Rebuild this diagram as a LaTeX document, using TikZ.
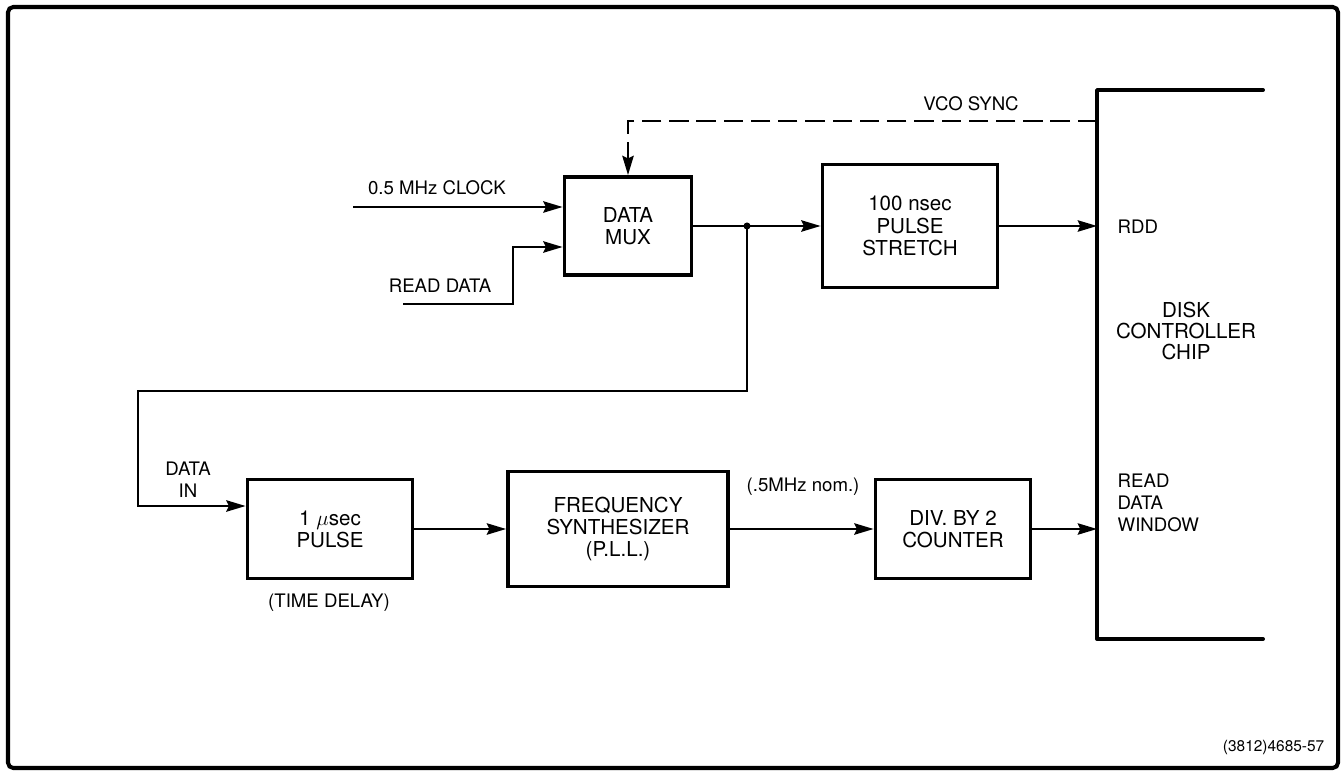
\documentclass[tikz,border=0pt]{standalone}
\usepackage{fontspec}
\setmainfont{TeX Gyre Heros}
\usetikzlibrary{arrows.meta}

\tikzset{
  blk/.style={draw, line width=2.2pt, align=center, inner sep=0pt,
    font=\fontsize{11.7}{12.6}\selectfont},
  lbl/.style={inner sep=0pt, font=\fontsize{10.6}{12.4}\selectfont},
  wire/.style={line width=1.2pt},
  chipline/.style={line width=2.2pt, line cap=round, line join=round},
}

\begin{document}
\begin{tikzpicture}[x=0.02cm, y=-0.02cm, >={Stealth[length=11pt, width=6.5pt, inset=1.5pt]}, thick] % 以像素为单位
    \useasboundingbox (0,0) rectangle (1344,773);
    \draw[line width=2.3pt, rounded corners=3pt] (8,7) rectangle (1338,768);

    % 上排方框
    \node[blk, minimum width=2.54cm, minimum height=1.96cm] (mux) at (628,226) {DATA\\MUX};
    \node[blk, minimum width=3.5cm, minimum height=2.46cm] (stretch) at (910,226) {100 nsec\\PULSE\\STRETCH};

    % 下排方框
    \node[blk, minimum width=3.3cm, minimum height=1.98cm] (pulse) at (330,529) {1 $\mu$sec\\PULSE};
    \node[blk, minimum width=4.4cm, minimum height=2.3cm] (synth) at (618,529) {FREQUENCY\\SYNTHESIZER\\(P.L.L.)};
    \node[blk, minimum width=3.1cm, minimum height=1.98cm] (counter) at (953,529) {DIV. BY 2\\COUNTER};

    % 磁盘控制芯片 (只画左边)
    \coordinate (chipTR) at (1263,90);
    \coordinate (chipTL) at (1097,90);
    \coordinate (chipBL) at (1097,639);
    \coordinate (chipBR) at (1263,639);
    \draw[chipline] (chipTR) -- (chipTL) -- (chipBL) -- (chipBR);
    \node[lbl, align=center, font=\fontsize{11.7}{12}\selectfont] (chip) at (1186,331) {DISK\\CONTROLLER\\CHIP};
    \node[lbl, anchor=west] (rdd) at (1117,227) {RDD};
    \node[lbl, anchor=west, align=left] (rdw) at (1117,503) {READ\\DATA\\WINDOW};

    % 输入信号
    \coordinate (clkin) at (353,207);
    \draw[wire, ->] (clkin) -- (clkin -| mux.west);
    \node[lbl] (clklbl) at (437,188) {0.5 MHz CLOCK};
    \coordinate (rdin) at (403,304);
    \coordinate (rdbend) at (513,247);
    \draw[wire, ->] (rdin) -| (rdbend) -- (rdbend -| mux.west);
    \node[lbl] (rdlbl) at (440,286) {READ DATA};

    % VCO 同步 (虚线)
    \coordinate (vco) at (1097,121);
    \draw[wire, dash pattern=on 11pt off 4.5pt, ->] (vco) -| (mux.north);
    \node[lbl] (vcolbl) at (971,104) {VCO SYNC};

    % 上排连线和分支点
    \coordinate (jn) at (747,226);
    \draw[wire, ->] (mux.east) -- (stretch.west);
    \fill (jn) circle (2pt);
    \draw[wire, ->] (stretch.east) -- (stretch.east -| chipTL);

    % 回到下排
    \coordinate (lpR) at (747,391);
    \coordinate (lpL) at (138,391);
    \coordinate (din) at (138,506);
    \draw[wire, ->] (jn) -- (lpR) -- (lpL) -- (din) -- (din -| pulse.west);
    \node[lbl, align=center] (dinlbl) at (188,480) {DATA\\IN};

    % 下排连线
    \draw[wire, ->] (pulse.east) -- (synth.west);
    \draw[wire, ->] (synth.east) -- (counter.west);
    \node[lbl] (nomlbl) at (803,487) {(.5MHz nom.)};
    \draw[wire, ->] (counter.east) -- (counter.east -| chipTL);
    \node[lbl] (tdlbl) at (329,603) {(TIME DELAY)};

    % 图号
    \node[lbl, font=\fontsize{8.8}{10}\selectfont, anchor=east] (figno) at (1325,747) {(3812)4685-57};
\end{tikzpicture}
\end{document}
